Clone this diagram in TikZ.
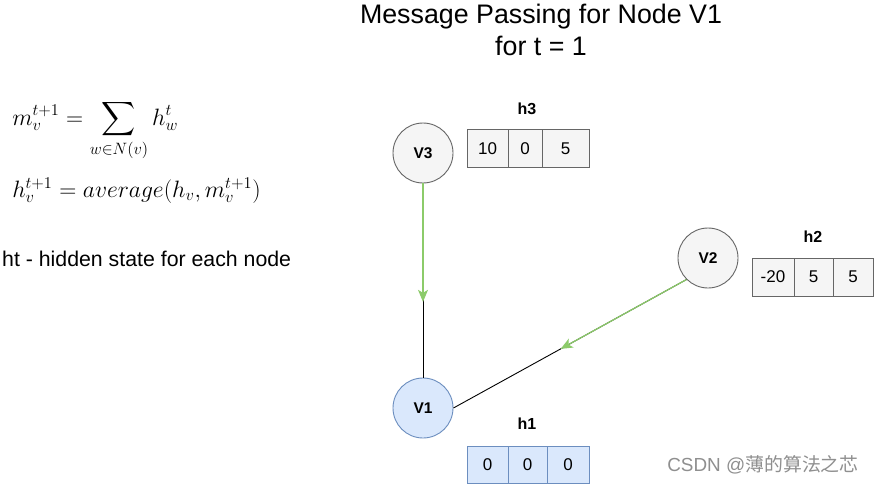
\documentclass[tikz,border=0pt]{standalone}
\usepackage{amsmath}
\usepackage{fontspec}
\setmainfont{Liberation Sans}
\newfontfamily\cjkfont{Noto Sans CJK SC}
\usetikzlibrary{calc,arrows.meta}
\definecolor{gfill}{HTML}{F5F5F5}
\definecolor{gline}{HTML}{666666}
\definecolor{bfill}{HTML}{DAE8FC}
\definecolor{bline}{HTML}{6C8EBF}
\definecolor{msg}{HTML}{8CCB6A}
\definecolor{wm}{HTML}{8F8F8F}
\tikzset{
  vnode/.style={circle, draw=gline, fill=gfill, line width=0.9pt, minimum size=60pt, inner sep=0pt, font=\fontsize{15.5}{18}\selectfont\bfseries},
  v1node/.style={vnode, draw=bline, fill=bfill},
  cell/.style={draw=gline, fill=gfill, line width=0.8pt, inner sep=0pt, font=\fontsize{17}{20}\selectfont},
  bcell/.style={cell, draw=bline, fill=bfill},
  hlabel/.style={font=\fontsize{16}{19}\selectfont\bfseries, inner sep=0pt},
  formula/.style={anchor=base west, inner sep=0pt, scale=1.37, font=\fontsize{17}{20}\selectfont},
  edge/.style={line width=0.9pt, black},
  msgarrow/.style={line width=1.2pt, msg, -{Stealth[length=12pt,width=10pt,inset=3pt]}},
}
\begin{document}
\begin{tikzpicture}[x=1pt,y=-1pt]
\useasboundingbox (0,0) rectangle (875,484);
\fill[white] (0,0) rectangle (875,484);

% title
\node[font=\fontsize{26.8}{30}\selectfont, inner sep=0pt] (title1) at (541,17) {Message Passing for Node V1};
\node[font=\fontsize{26.8}{30}\selectfont, inner sep=0pt] (title2) at (541,46) {for t = 1};

% formulas
\node[formula] (f1) at (12,125)
  {$\displaystyle m_v^{t+1} = \sum_{w\in N(v)} h_w^t$};
\node[formula] (f2) at (12,197)
  {$h_v^{t+1} = \mathnormal{average}(h_v, m_v^{t+1})$};
\node[anchor=west, inner sep=0pt, font=\fontsize{21.3}{24}\selectfont] (note) at (2,259)
  {ht - hidden state for each node};

% vertices
\node[vnode] (V3) at (423,153) {V3};
\node[vnode] (V2) at (708,258) {V2};
\node[v1node] (V1) at (423,408) {V1};

% h3
\node[hlabel] (h3) at (527,109) {h3};
\node[cell, minimum width=41pt, minimum height=38pt] (h3a) at (487.5,148.5) {10};
\node[cell, minimum width=34pt, minimum height=38pt] (h3b) at (525,148.5) {0};
\node[cell, minimum width=47pt, minimum height=38pt] (h3c) at (565.5,148.5) {5};

% h2
\node[hlabel] (h2) at (813,237) {h2};
\node[cell, minimum width=42pt, minimum height=38pt] (h2a) at (773,277) {-20};
\node[cell, minimum width=39pt, minimum height=38pt] (h2b) at (813.5,277) {5};
\node[cell, minimum width=40pt, minimum height=38pt] (h2c) at (853,277) {5};

% h1
\node[hlabel] (h1) at (527,424) {h1};
\node[bcell, minimum width=41pt, minimum height=37pt] (h1a) at (487.5,464.5) {0};
\node[bcell, minimum width=39pt, minimum height=37pt] (h1b) at (527.5,464.5) {0};
\node[bcell, minimum width=42pt, minimum height=37pt] (h1c) at (568,464.5) {0};

% edges
\draw[edge] (V3.south) -- (V1.north);
\draw[edge] (V1.east) -- (V2.225);
\coordinate (m3) at ($(V3.south)!0.61!(V1.north)$);
\coordinate (m2) at ($(V2.225)!0.54!(V1.east)$);
\draw[msgarrow] (V3.south) -- (m3);
\draw[msgarrow] (V2.225) -- (m2);

% watermark
\node[text=wm, inner sep=0pt, font=\fontsize{18.9}{22}\selectfont] (wmk) at (763,465) {CSDN @{\cjkfont 薄的算法之芯}};
\end{tikzpicture}
\end{document}
